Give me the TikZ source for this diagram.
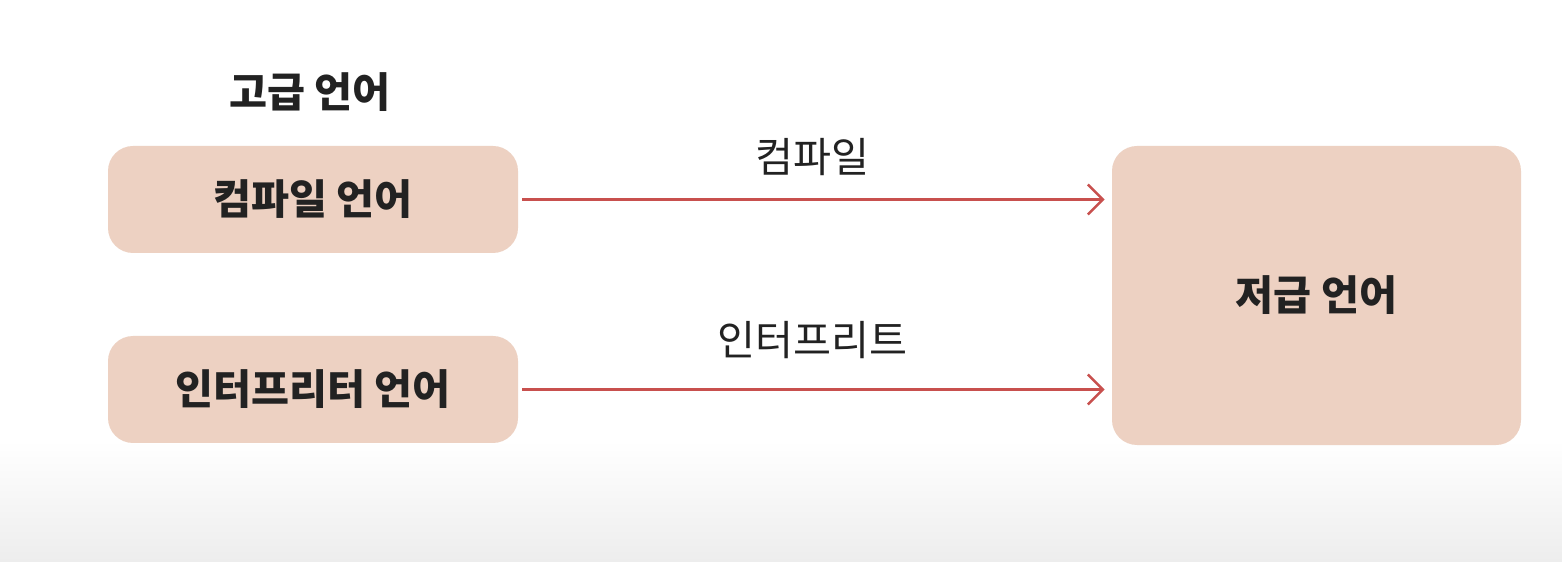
\documentclass[tikz,border=0pt]{standalone}
\usepackage{fontspec}
\newfontfamily\krfont{Noto Sans CJK KR}
\usetikzlibrary{arrows.meta}
\definecolor{boxfill}{HTML}{EDD1C2}
\definecolor{flowred}{HTML}{C8504E}
\definecolor{shadegray}{HTML}{EDEDED}
\definecolor{inkdark}{HTML}{222222}
\begin{document}
\begin{tikzpicture}[
    langbox/.style={rectangle, rounded corners=0.5cm, fill=boxfill, inner sep=0pt, text=inkdark,
                    font=\krfont\bfseries\fontsize{23.5}{28}\selectfont},
    flow/.style={draw=flowred, line width=1.4pt, -{Straight Barb[length=0.3cm, width=0.6cm]}},
    flowlabel/.style={text=inkdark, font=\krfont\fontsize{23.5}{28}\selectfont}
  ]
        % page and the grey fade at the bottom
        \useasboundingbox (0,0) rectangle (31.24,-11.24);
        \fill[white] (0,0) rectangle (31.24,-11.24);
        \shade[top color=white, bottom color=shadegray] (0,-8.8) rectangle (31.24,-11.24);

        \node[text=inkdark, font=\krfont\bfseries\fontsize{23.5}{28}\selectfont] (high-title) at(6.2,-1.84){고급 언어};

        \node[langbox, minimum width=8.2cm, minimum height=2.14cm] (compile-lang) at(6.26,-3.99){컴파일 언어};
        \node[langbox, minimum width=8.2cm, minimum height=2.14cm] (interp-lang) at(6.26,-7.79){인터프리터 언어};
        \node[langbox, minimum width=8.18cm, minimum height=5.98cm] (low-lang) at(26.33,-5.91){저급 언어};

        \node[flowlabel] (compile-label) at(16.24,-3.14){컴파일};
        \node[flowlabel] (interp-label) at(16.24,-6.80){인터프리트};

        \draw [flow, shorten <=0.08cm, shorten >=0.14cm] (compile-lang.east) -- (compile-lang.east -| low-lang.west);
        \draw [flow, shorten <=0.08cm, shorten >=0.14cm] (interp-lang.east) -- (interp-lang.east -| low-lang.west);

      \end{tikzpicture}
\end{document}
